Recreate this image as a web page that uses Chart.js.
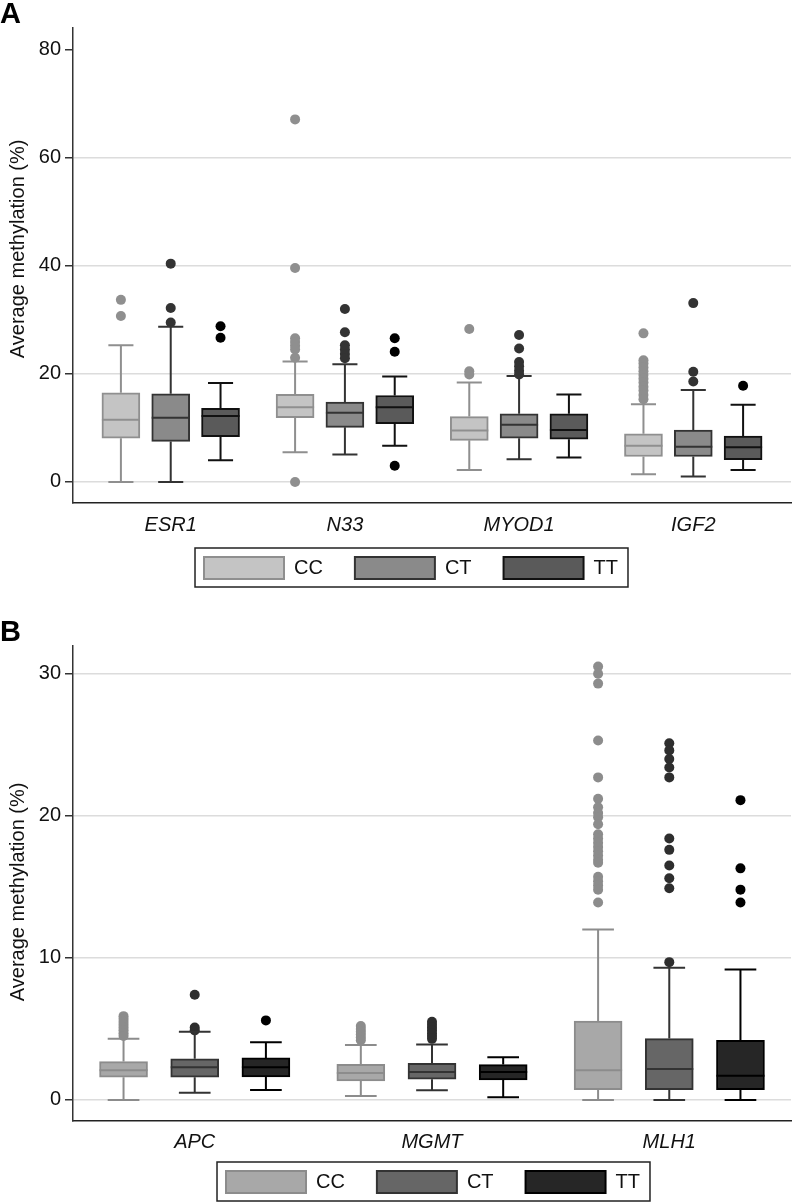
<!DOCTYPE html>
<html>
<head>
<meta charset="utf-8">
<script src="https://cdn.jsdelivr.net/npm/chart.js@4.4.1/dist/chart.umd.min.js"></script>
<style>
  body { margin: 0; background: #fff; }
  canvas { display: block; }
</style>
</head>
<body>
<canvas id="chartA" width="796" height="600"></canvas>
<canvas id="chartB" width="796" height="604"></canvas>
<script>
const genotypes = ['CC', 'CT', 'TT'];

// Panel A: [lower whisker, Q1, median, Q3, upper whisker] per gene
const genesA = ['ESR1', 'N33', 'MYOD1', 'IGF2'];
const yTicksA = [0, 20, 40, 60, 80];
const ccA = [[0, 8.1, 11.5, 16.5, 25.3], [5.5, 11.9, 13.8, 16.2, 22.3], [2.2, 7.7, 9.5, 12.1, 18.4], [1.4, 4.7, 6.7, 8.9, 14.4]];
const ctA = [[0, 7.5, 11.9, 16.3, 28.7], [5.1, 10.1, 12.8, 14.8, 21.8], [4.2, 8.1, 10.6, 12.6, 19.6], [1.0, 4.7, 6.5, 9.6, 17.0]];
const ttA = [[4.0, 8.4, 12.2, 13.6, 18.3], [6.7, 10.8, 13.8, 16.0, 19.5], [4.5, 7.9, 9.6, 12.6, 16.2], [2.2, 4.1, 6.4, 8.5, 14.3]];
const ccOutA = [[33.7, 30.7], [67.1, 39.6, 26.6, 25.9, 25.2, 24.5, 23.0, 0], [28.3, 20.5, 19.9],
  [27.5, 22.5, 21.9, 21.2, 20.5, 19.8, 19.1, 18.4, 17.6, 16.9, 16.1, 15.3]];
const ctOutA = [[40.4, 32.2, 29.5], [32.0, 27.7, 25.3, 24.5, 23.7, 22.9], [27.2, 24.7, 22.2, 21.4, 20.6, 19.9], [33.1, 20.4, 18.6]];
const ttOutA = [[28.8, 26.7], [26.6, 24.1, 3.0], [], [17.8]];

// Panel B
const genesB = ['APC', 'MGMT', 'MLH1'];
const yTicksB = [0, 10, 20, 30];
const ccB = [[0, 1.6, 2.1, 2.7, 4.3], [0.28, 1.34, 1.9, 2.5, 3.87], [0, 0.73, 2.09, 5.56, 12.0]];
const ctB = [[0.5, 1.6, 2.3, 2.9, 4.8], [0.68, 1.46, 1.97, 2.58, 3.9], [0, 0.73, 2.18, 4.32, 9.3]];
const ttB = [[0.7, 1.62, 2.3, 2.96, 4.06], [0.19, 1.41, 1.97, 2.49, 3.0], [0, 0.73, 1.71, 4.2, 9.18]];
const ccOutB = [[5.9, 5.7, 5.5, 5.3, 5.1, 4.9, 4.7, 4.5], [5.2, 5.0, 4.8, 4.6, 4.4, 4.2],
  [30.5, 30.0, 29.3, 25.3, 22.7, 21.2, 20.6, 20.2, 19.9, 19.4, 18.7, 18.4, 18.1, 17.8, 17.5, 17.2, 16.9, 16.7, 15.7, 15.4, 15.1, 14.8, 13.9]];
const ctOutB = [[7.4, 5.1, 4.9], [5.5, 5.3, 5.1, 4.9, 4.7, 4.5, 4.3],
  [25.1, 24.6, 24.0, 23.4, 22.7, 18.4, 17.6, 16.5, 15.6, 14.9, 9.7]];
const ttOutB = [[5.6], [], [21.1, 16.3, 14.8, 13.9]];

Chart.defaults.font.family = '"Liberation Sans", Arial, sans-serif';
Chart.defaults.color = '#111';

// whiskers, caps and median lines on top of the floating bars
const boxWhiskers = {
  id: 'boxWhiskers',
  afterDatasetsDraw(chart) {
    const ctx = chart.ctx;
    const y = chart.scales.y;
    chart.data.datasets.forEach((ds, j) => {
      if (!ds.whiskers) return;
      const meta = chart.getDatasetMeta(j);
      ctx.save();
      ctx.strokeStyle = ds.borderColor;
      ctx.lineWidth = 2;
      ds.whiskers.forEach((s, i) => {
        const bar = meta.data[i];
        const half = bar.width / 2;
        const cap = bar.width * 0.33;
        ctx.beginPath();
        ctx.moveTo(bar.x, y.getPixelForValue(s[0]));
        ctx.lineTo(bar.x, y.getPixelForValue(s[1]));
        ctx.moveTo(bar.x, y.getPixelForValue(s[3]));
        ctx.lineTo(bar.x, y.getPixelForValue(s[4]));
        ctx.moveTo(bar.x - cap, y.getPixelForValue(s[0]));
        ctx.lineTo(bar.x + cap, y.getPixelForValue(s[0]));
        ctx.moveTo(bar.x - cap, y.getPixelForValue(s[4]));
        ctx.lineTo(bar.x + cap, y.getPixelForValue(s[4]));
        ctx.moveTo(bar.x - half, y.getPixelForValue(s[2]));
        ctx.lineTo(bar.x + half, y.getPixelForValue(s[2]));
        ctx.stroke();
      });
      ctx.restore();
    });
  }
};

// shifts the legend sideways, gives the x labels room, frames the legend
const legendFrame = {
  id: 'legendFrame',
  afterLayout(chart, args, opts) {
    chart.legend.left += opts.shift;
    chart.legend.right += opts.shift;
    chart.scales.x.bottom += 30;
  },
  afterDraw(chart) {
    const boxes = chart.legend.legendHitBoxes;
    if (!boxes || !boxes.length) return;
    const first = boxes[0], last = boxes[boxes.length - 1];
    const ctx = chart.ctx;
    ctx.save();
    ctx.strokeStyle = '#222';
    ctx.lineWidth = 1.5;
    const l = first.left - 9, r = last.left + last.width + 10;
    const t = first.top - 9, b = first.top + first.height + 8;
    ctx.strokeRect(l, t, r - l, b - t);
    ctx.restore();
  }
};

function buildChart(id, p) {
  const datasets = [];
  p.stats.forEach((rows, j) => {
    datasets.push({
      type: 'bar',
      label: genotypes[j],
      data: rows.map((s, i) => ({x: i + (j - 1) * p.step, y: [s[1], s[3]]})),
      whiskers: rows,
      backgroundColor: p.fills[j],
      borderColor: p.lines[j],
      borderWidth: 2,
      borderSkipped: false,
      barThickness: p.boxWidth,
      grouped: false,
      order: 2
    });
  });
  p.outliers.forEach((groups, j) => {
    datasets.push({
      type: 'scatter',
      label: genotypes[j] + ' outliers',
      data: groups.flatMap((vals, i) => vals.map(v => ({x: i + (j - 1) * p.step, y: v}))),
      backgroundColor: p.dots[j],
      borderWidth: 0,
      pointRadius: 5,
      order: 1
    });
  });

  return new Chart(document.getElementById(id), {
    type: 'bar',
    data: {datasets},
    options: {
      responsive: false,
      animation: false,
      events: [],
      layout: {padding: {top: 0, right: 3, bottom: p.padBottom, left: 0}},
      plugins: {
        title: {
          display: true,
          text: p.panel,
          align: 'start',
          color: '#000',
          font: {size: 29, weight: 'bold', lineHeight: 0.9},
          padding: {top: p.titleTop, bottom: 0}
        },
        legend: {
          position: 'bottom',
          labels: {
            boxWidth: 80,
            boxHeight: 22,
            padding: 32,
            color: '#111',
            font: {size: 20},
            filter: (item) => item.datasetIndex < 3
          }
        },
        tooltip: {enabled: false},
        legendFrame: {shift: p.legendShift}
      },
      scales: {
        x: {
          type: 'linear',
          min: p.xMin,
          max: p.xMax,
          offset: false,
          grid: {display: false, drawTicks: false},
          border: {display: true, color: '#222', width: 1.5},
          ticks: {
            font: {size: 20, style: 'italic'},
            color: '#111',
            padding: p.labelPad,
            callback: (v, i) => p.genes[i]
          },
          afterBuildTicks: (axis) => { axis.ticks = p.genes.map((g, i) => ({value: i})); },
          afterFit: (axis) => { axis.height = p.xAxisHeight; }
        },
        y: {
          type: 'linear',
          min: p.yMin,
          max: p.yMax,
          grid: {
            color: (c) => (c.tick && p.noGrid.includes(c.tick.value)) ? 'rgba(0,0,0,0)' : '#dcdcdc',
            lineWidth: 1.5,
            tickColor: '#333',
            tickLength: 8,
            drawTicks: true
          },
          border: {display: true, color: '#333', width: 1.5},
          ticks: {font: {size: 20}, color: '#111', padding: 4},
          afterBuildTicks: (axis) => { axis.ticks = p.yTicks.map(v => ({value: v})); },
          afterFit: (axis) => { axis.width = 73; },
          title: {
            display: true,
            text: p.yTitle,
            color: '#111',
            font: {size: 20},
            padding: {top: 6, bottom: 0}
          }
        }
      }
    },
    plugins: [boxWhiskers, legendFrame]
  });
}

buildChart('chartA', {
  panel: 'A',
  titleTop: 2,
  genes: genesA,
  stats: [ccA, ctA, ttA],
  outliers: [ccOutA, ctOutA, ttOutA],
  fills: ['#c4c4c4', '#8a8a8a', '#5a5a5a'],
  lines: ['#8f8f8f', '#333333', '#111111'],
  dots: ['#8f8f8f', '#333333', '#000000'],
  step: 0.286,
  boxWidth: 38,
  xMin: -0.561,
  xMax: 3.561,
  yMin: -3.9,
  yMax: 84,
  yTicks: yTicksA,
  noGrid: [80],
  yTitle: '      Average methylation (%)',
  xAxisHeight: 22,
  labelPad: 10,
  padBottom: 11,
  legendShift: 14.5
});

buildChart('chartB', {
  panel: 'B',
  titleTop: 20,
  genes: genesB,
  stats: [ccB, ctB, ttB],
  outliers: [ccOutB, ctOutB, ttOutB],
  fills: ['#a8a8a8', '#666666', '#262626'],
  lines: ['#8c8c8c', '#333333', '#000000'],
  dots: ['#8c8c8c', '#2e2e2e', '#000000'],
  step: 0.3,
  boxWidth: 48,
  xMin: -0.513,
  xMax: 2.513,
  yMin: -1.48,
  yMax: 31.94,
  yTicks: yTicksB,
  noGrid: [],
  yTitle: 'Average methylation (%)   ',
  xAxisHeight: 18,
  labelPad: 9,
  padBottom: 1,
  legendShift: 36.5
});
</script>
</body>
</html>
